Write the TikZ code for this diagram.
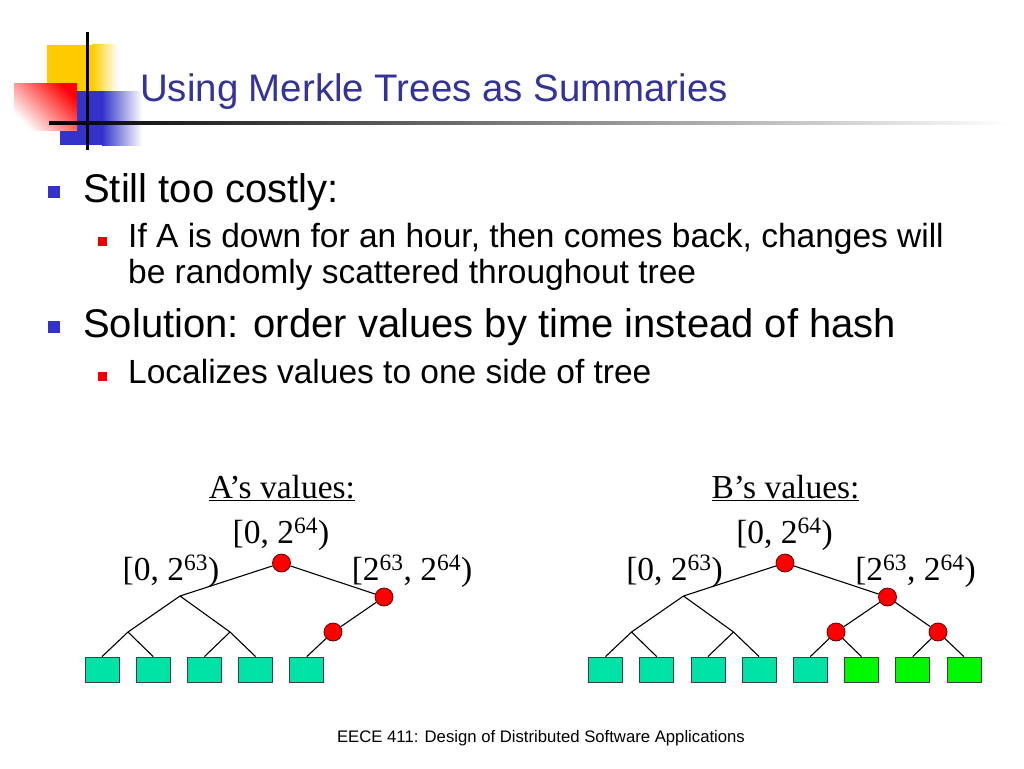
\documentclass[tikz,border=0pt]{standalone}
\usepackage{fontspec}
\setmainfont{Liberation Sans}
\newfontfamily\timesfont{Liberation Serif}
\usepackage{tikz}
\usetikzlibrary{positioning}
\definecolor{TitleBlue}{HTML}{333399}
\definecolor{MarkBlue}{HTML}{3333CC}
\definecolor{MarkRed}{HTML}{F00000}
\definecolor{LogoYellow}{HTML}{FFCC00}
\definecolor{LeafTeal}{HTML}{00E3A6}
\definecolor{LeafGreen}{HTML}{00F800}
\definecolor{HashRed}{HTML}{FF0000}

\tikzset{
  hashnode/.style={circle,draw=black!60!red,fill=HashRed,minimum size=18pt,inner sep=0pt,line width=0.8pt},
  leaf/.style={draw=black!75,fill=LeafTeal,minimum width=34pt,minimum height=25pt,inner sep=0pt,line width=0.8pt},
  newleaf/.style={leaf,fill=LeafGreen},
  edge/.style={line width=1.1pt},
  rng/.style={font=\timesfont\fontsize{33.5}{38}\selectfont,inner sep=0pt,anchor=base},
  toptext/.style={font=\fontsize{40}{46}\selectfont,inner sep=0pt,anchor=base west},
  subtext/.style={font=\fontsize{33.5}{38}\selectfont,inner sep=0pt,anchor=base west},
  bigmark/.style={fill=MarkBlue,minimum size=12.5pt,inner sep=0pt,outer sep=0pt},
  smallmark/.style={fill=MarkRed,minimum size=9pt,inner sep=0pt,outer sep=0pt}
}

\begin{document}
\begin{tikzpicture}[x=1pt,y=-1pt]
\useasboundingbox[fill=white] (0,0) rectangle (1024,768);

% logo
\fill[LogoYellow] (47,45) rectangle (92,92);
\shade[left color=LogoYellow,right color=white] (92,45) rectangle (118,92);
\fill[MarkBlue] (60,91) rectangle (102,145);
\shade[left color=MarkBlue,right color=white] (102,91) rectangle (142,145);
\shade[top color=HashRed,bottom color=white,shading angle=-45] (14,83) rectangle (77,130);
\fill[black] (85.5,32) rectangle (88.5,150);
\shade[left color=black,middle color=black!45,right color=white] (49,121.5) rectangle (1010,124.5);

\node[anchor=base west,inner sep=0pt,text=TitleBlue,font=\fontsize{38.4}{46}\selectfont] (title) at (140,101) {Using Merkle Trees as Summaries};

% bullets
\node[bigmark] (m1) at (54,192) {};
\node[toptext] (still) at (83,202) {Still too costly:};
\node[smallmark] (m2) at (102,241) {};
\node[subtext] (ifa) at (128,247) {If A is down for an hour, then comes back, changes will};
\node[subtext] (scat) at (128,283) {be randomly scattered throughout tree};
\node[bigmark] (m3) at (54,327) {};
\node[toptext] (sol) at (83,337) {Solution: order values by time instead of hash};
\node[smallmark] (m4) at (102,376.5) {};
\node[subtext] (loc) at (128,383) {Localizes values to one side of tree};

% the two trees, left halves alike
\foreach \t/\dx/\who in {a/0/A,b/503.5/B} {
  \node[rng] (\t-lab) at (282+\dx,498) {\underline{\who’s values:}};
  \node[rng] (\t-all) at (281+\dx,543) {[0, 2\textsuperscript{64})};
  \node[rng] (\t-low) at (171+\dx,580) {[0, 2\textsuperscript{63})};
  \node[rng] (\t-high) at (412+\dx,580) {[2\textsuperscript{63}, 2\textsuperscript{64})};
  \node[hashnode] (\t-root) at (281.5+\dx,563) {};
  \node[hashnode] (\t-hi) at (384+\dx,597) {};
  \coordinate (\t-lo) at (180+\dx,596);
  \coordinate (\t-lo1) at (128+\dx,632);
  \coordinate (\t-lo2) at (230+\dx,632);
  \foreach \i in {1,...,5}
    \node[leaf] (\t\i) at ({102+\dx+51.2*(\i-1)},669.5) {};
  \draw[edge] (\t-root) -- (\t-lo) (\t-lo) -- (\t-lo1) (\t-lo) -- (\t-lo2)
    (\t-lo1) -- (\t1.north) (\t-lo1) -- (\t2.north)
    (\t-lo2) -- (\t3.north) (\t-lo2) -- (\t4.north)
    (\t-root) -- (\t-hi);
}

% A: right side
\node[hashnode] (a-hl) at (333,632) {};
\draw[edge] (a-hi) -- (a-hl) (a-hl) -- (a5.north);

% B: right side
\node[hashnode] (b-hl) at (836,632) {};
\node[hashnode] (b-hr) at (938,632) {};
\foreach \i in {6,7,8}
  \node[newleaf] (b\i) at ({605.5+51.2*(\i-1)},669.5) {};
\draw[edge] (b-hi) -- (b-hl) (b-hi) -- (b-hr)
  (b-hl) -- (b5.north) (b-hl) -- (b6.north)
  (b-hr) -- (b7.north) (b-hr) -- (b8.north);

\node[anchor=base,inner sep=0pt,font=\fontsize{16.7}{20}\selectfont] (foot) at (541,742) {EECE 411: Design of Distributed Software Applications};
\end{tikzpicture}
\end{document}
